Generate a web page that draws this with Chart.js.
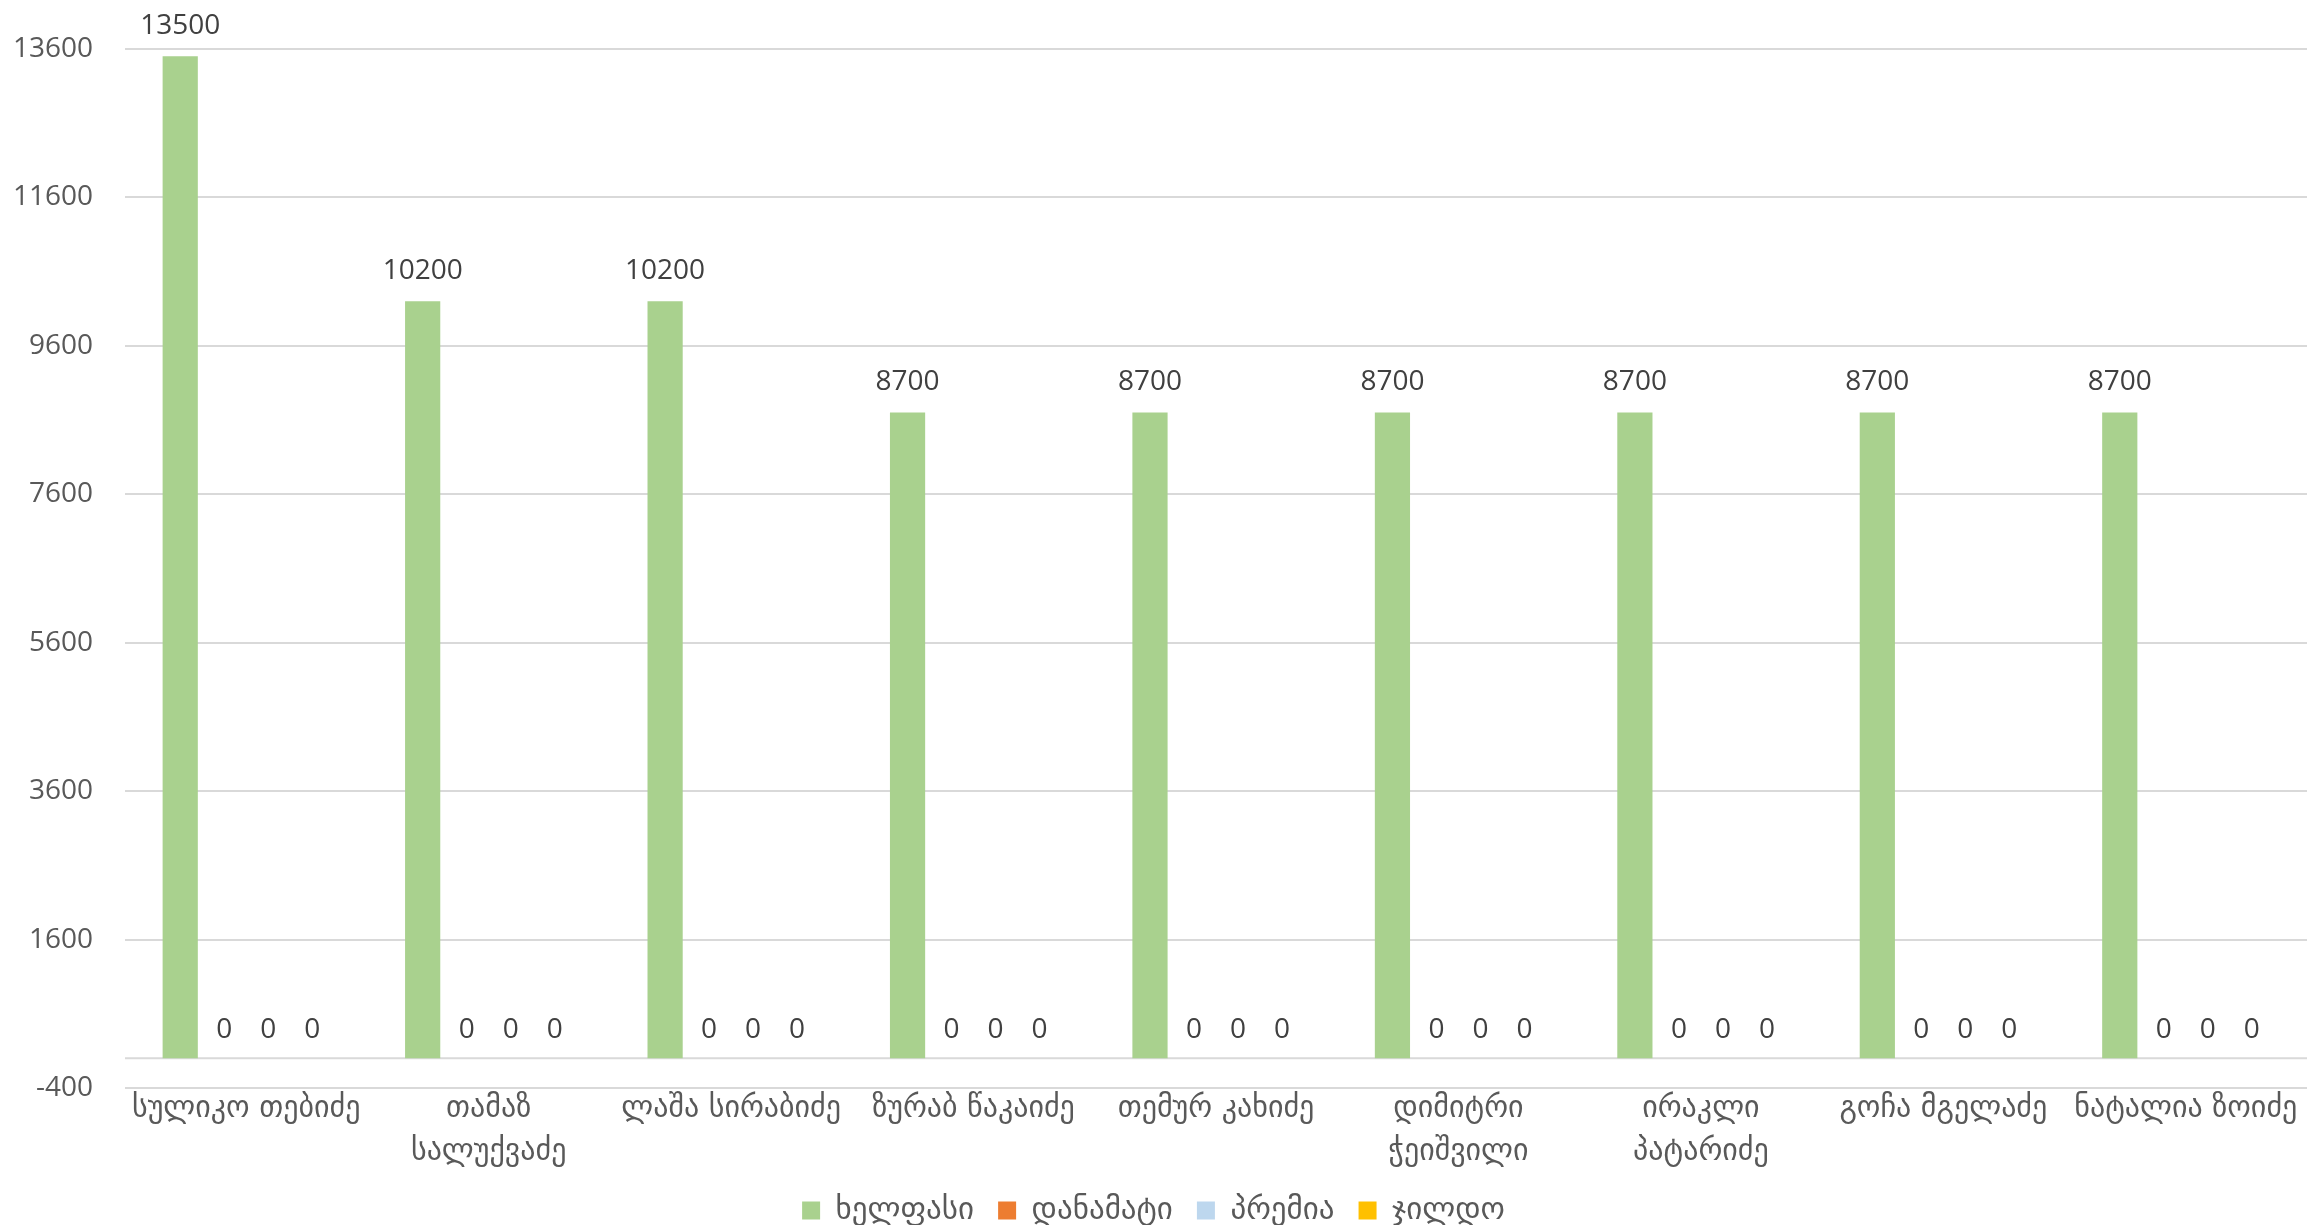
<!DOCTYPE html>
<html>
<head>
<meta charset="utf-8">
<script src="https://cdn.jsdelivr.net/npm/chart.js@4/dist/chart.umd.min.js"></script>
<style>
  html, body { margin: 0; padding: 0; background: #ffffff; }
  #wrap { width: 2310px; height: 1225px; position: relative; }
</style>
</head>
<body>
<div id="wrap"><canvas id="c"></canvas></div>
<script>
const categories = [
  "სულიკო თებიძე",
  ["თამაზ", "სალუქვაძე"],
  "ლაშა სირაბიძე",
  "ზურაბ წაკაიძე",
  "თემურ კახიძე",
  ["დიმიტრი", "ჭეიშვილი"],
  ["ირაკლი", "პატარიძე"],
  "გოჩა მგელაძე",
  "ნატალია ზოიძე"
];
const seriesNames = ["ხელფასი", "დანამატი", "პრემია", "ჯილდო"];
const salary = [13500, 10200, 10200, 8700, 8700, 8700, 8700, 8700, 8700];
const bonus = [0, 0, 0, 0, 0, 0, 0, 0, 0];
const premium = [0, 0, 0, 0, 0, 0, 0, 0, 0];
const award = [0, 0, 0, 0, 0, 0, 0, 0, 0];
const yMin = -400, yMax = 13600, yStep = 2000;

const FONT = '"Open Sans", "DejaVu Sans", sans-serif';
const GEO = '"DejaVu Sans", sans-serif';
const colors = ["#A9D18E", "#ED7D31", "#BDD7EE", "#FFC000"];
const seriesValues = [salary, bonus, premium, award];

const labelPlugin = {
  id: 'valueLabels',
  beforeDatasetsDraw(chart) {
    const { ctx, chartArea, scales } = chart;
    const y0 = scales.y.getPixelForValue(0);
    ctx.save();
    ctx.strokeStyle = '#d9d9d9';
    ctx.lineWidth = 2;
    ctx.beginPath();
    ctx.moveTo(chartArea.left, y0);
    ctx.lineTo(chartArea.right, y0);
    ctx.stroke();
    ctx.restore();
  },
  afterDatasetsDraw(chart) {
    const { ctx } = chart;
    ctx.save();
    ctx.font = '28px ' + FONT;
    ctx.fillStyle = '#404040';
    ctx.textAlign = 'center';
    ctx.textBaseline = 'middle';
    chart.data.datasets.forEach((ds, i) => {
      const meta = chart.getDatasetMeta(i);
      meta.data.forEach((el, j) => {
        const v = ds.data[j];
        ctx.fillText(String(v), el.x, el.y - (v === 0 ? 28 : 30));
      });
    });
    ctx.restore();
  }
};

new Chart(document.getElementById('c'), {
  type: 'bar',
  data: {
    labels: categories,
    datasets: seriesNames.map((n, i) => ({
      label: n,
      data: seriesValues[i],
      backgroundColor: colors[i],
      borderWidth: 0,
      categoryPercentage: 0.726,
      barPercentage: 0.8
    }))
  },
  options: {
    responsive: true,
    maintainAspectRatio: false,
    animation: false,
    layout: { padding: { top: 47, right: 3, left: 0, bottom: -11 } },
    plugins: {
      legend: {
        position: 'bottom',
        labels: {
          font: { family: GEO, size: 31 },
          color: '#595959',
          boxWidth: 18,
          boxHeight: 18,
          padding: 24
        }
      },
      tooltip: { enabled: false },
      title: { display: false }
    },
    scales: {
      x: {
        grid: { display: false, drawTicks: false },
        border: { display: false },
        ticks: {
          font: { family: GEO, size: 30, lineHeight: 1.42 },
          color: '#595959',
          padding: 0,
          maxRotation: 0,
          autoSkip: false
        },
        afterFit(scale) { scale.height = 83; }
      },
      y: {
        min: yMin,
        max: yMax,
        grid: { color: '#d9d9d9', lineWidth: 2, drawTicks: false },
        border: { display: false },
        ticks: {
          stepSize: yStep,
          font: { family: FONT, size: 28 },
          color: '#595959',
          padding: 32,
          callback: (v) => String(v)
        },
        afterFit(scale) { scale.width = 125; }
      }
    }
  },
  plugins: [labelPlugin]
});
</script>
</body>
</html>
